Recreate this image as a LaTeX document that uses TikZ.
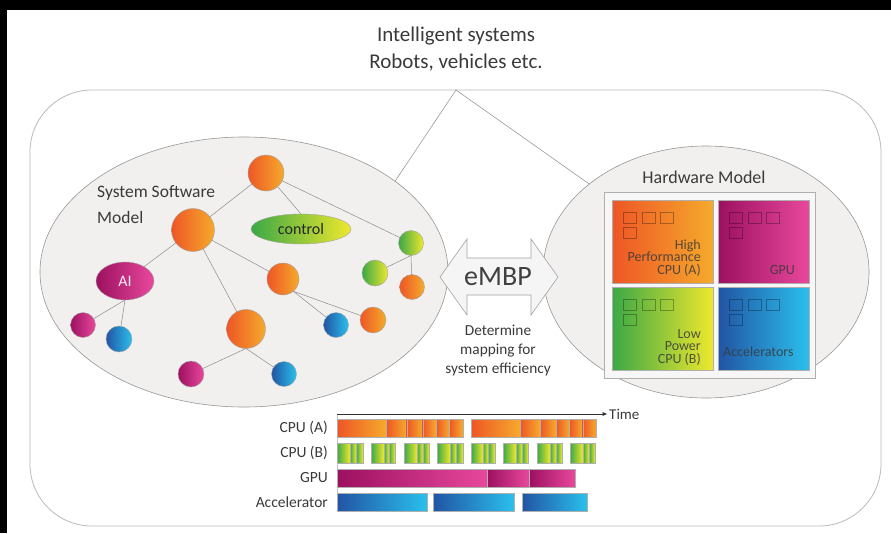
\documentclass[tikz,border=0pt]{standalone}
\usepackage{fontspec}
\setmainfont{Carlito}
\usetikzlibrary{shapes.geometric,arrows.meta}
\definecolor{orL}{HTML}{EE5626}
\definecolor{orR}{HTML}{F5AA2C}
\definecolor{mgL}{HTML}{9C1060}
\definecolor{mgR}{HTML}{E8489C}
\definecolor{blL}{HTML}{2254A4}
\definecolor{blR}{HTML}{2AC0EC}
\definecolor{grL}{HTML}{3BA846}
\definecolor{grR}{HTML}{EEE82E}
\definecolor{ln}{HTML}{8C8C8C}
\definecolor{bgc}{HTML}{F2F0EF}
\definecolor{txt}{HTML}{3A3A3A}
\tikzset{
  bub/.style={circle, draw=ln!80, line width=0.4pt, inner sep=0pt, outer sep=0pt, minimum size=#1},
  gor/.style={left color=orL, right color=orR},
  gmg/.style={left color=mgL, right color=mgR},
  gbl/.style={left color=blL, right color=blR},
  ggr/.style={left color=grL, right color=grR},
  lnk/.style={draw=ln, line width=0.5pt},
  seg/.style={draw=ln!70, line width=0.4pt},
  sq/.style={draw=black, draw opacity=0.3, line width=0.6pt},
  lbl/.style={inner sep=0pt, text=txt},
  fz/.style={font=\fontsize{#1}{#1}\selectfont},
}
\begin{document}
\begin{tikzpicture}[x=1pt,y=-1pt]
\useasboundingbox (0,0) rectangle (891,533);
\fill[white] (0,0) rectangle (891,533);
\fill[black] (0,0) rectangle (891,10);
\fill[black] (0,0) rectangle (7,533);

% title
\node[lbl, align=center, font=\fontsize{21}{27}\selectfont] (title) at (456,49.5) {Intelligent systems\\Robots, vehicles etc.};

% outer frame
\draw[draw=ln!60, line width=0.8pt, rounded corners=62pt] (30,90) rectangle (881,526);

% ellipses
\node[ellipse, draw=ln!90, fill=bgc, line width=0.6pt, inner sep=0pt, outer sep=0pt, minimum width=408pt, minimum height=270pt] (sw) at (244,272) {};
\node[ellipse, draw=ln!90, fill=bgc, line width=0.6pt, inner sep=0pt, outer sep=0pt, minimum width=326pt, minimum height=252pt] (hw) at (706,272) {};
\coordinate (apex) at (456,90);
\draw[lnk] (apex) -- (sw.31.7);
\draw[lnk] (apex) -- (hw.143.4);

% eMBP arrow
\filldraw[fill=white!96!black, draw=ln!80, line width=0.6pt]
  (440,277) -- (467,239) -- (467,258) -- (531,258) -- (531,239) -- (558,277)
  -- (531,315) -- (531,295) -- (467,295) -- (467,315) -- cycle;
\node[lbl, text=black!75, fz=28] (embp) at (498,277) {eMBP};
\node[lbl, align=center, font=\fontsize{15.3}{19}\selectfont] (det) at (498,350) {Determine\\mapping for\\system efficiency};

% software model
\node[lbl, anchor=west, align=left, font=\fontsize{17.5}{26}\selectfont] (swt) at (97,205) {System Software\\Model};
\node[bub=36pt,gor] (top) at (266,173) {};
\node[bub=43pt,gor] (bl) at (193,230) {};
\node[ellipse, draw=ln!80, line width=0.4pt, ggr, inner sep=0pt, outer sep=0pt, minimum width=100pt, minimum height=30pt, fz=16, text=black!85] (ctl) at (301,229) {control};
\node[bub=25pt,ggr] (g1) at (411,243) {};
\node[bub=26pt,ggr] (g2) at (375,273) {};
\node[bub=25pt,gor] (o3) at (412,287) {};
\node[ellipse, draw=ln!80, line width=0.4pt, gmg, inner sep=0pt, outer sep=0pt, minimum width=58pt, minimum height=38pt, fz=16, text=white!90!mgR] (ai) at (125,281) {AI};
\node[bub=32pt,gor] (om) at (283,279) {};
\node[bub=25pt,gmg] (m1) at (83,325) {};
\node[bub=26pt,gbl] (b1) at (119,339) {};
\node[bub=39pt,gor] (ob) at (246,329) {};
\node[bub=25pt,gbl] (b2) at (336,325) {};
\node[bub=26pt,gor] (o4) at (373,320) {};
\node[bub=26pt,gmg] (m2) at (191,374) {};
\node[bub=25pt,gbl] (b3) at (284,374) {};
\draw[lnk] (top) -- (bl);
\draw[lnk] (top) -- (ctl.north);
\draw[lnk] (top) -- (g1);
\draw[lnk] (bl) -- (ai);
\draw[lnk] (bl) -- (om);
\draw[lnk] (bl) -- (ob);
\draw[lnk] (ai.south) -- (m1);
\draw[lnk] (ai.south) -- (b1);
\draw[lnk] (om.-50) -- (b2);
\draw[lnk] (om.-50) -- (o4);
\draw[lnk] (g1.south) -- (g2);
\draw[lnk] (g1.south) -- (o3);
\draw[lnk] (ob.south) -- (m2);
\draw[lnk] (ob.south) -- (b3);

% hardware model
\node[lbl, fz=18] (hwt) at (704,177) {Hardware Model};
\filldraw[fill=white!97!black, draw=ln!70, line width=0.6pt] (604,192) rectangle (815,378);
\shade[seg, left color=orL, right color=orR] (612,200) rectangle (713,283);
\shade[seg, left color=mgL, right color=mgR] (718,200) rectangle (809,283);
\shade[seg, left color=grL, right color=grR] (612,287) rectangle (713,370);
\shade[seg, left color=blL, right color=blR] (718,287) rectangle (809,370);
\foreach \bx/\by in {612/200,718/200,612/287,718/287}{
  \draw[sq] (\bx+11,\by+12) rectangle ++(13,11);
  \draw[sq] (\bx+30,\by+12) rectangle ++(13,11);
  \draw[sq] (\bx+48,\by+12) rectangle ++(13,11);
  \draw[sq] (\bx+11,\by+27) rectangle ++(13,11);
}
\node[lbl, text opacity=0.85, anchor=east, align=right, font=\fontsize{14}{12.3}\selectfont] (cpua) at (701,258) {High\\Performance\\CPU (A)};
\node[lbl, text opacity=0.85, anchor=east, fz=14] (gpu) at (795,270) {GPU};
\node[lbl, text opacity=0.85, anchor=east, align=right, font=\fontsize{14}{12.5}\selectfont] (cpub) at (701,347) {Low\\Power\\CPU (B)};
\node[lbl, text opacity=0.85, anchor=west, fz=14] (acc) at (723,352) {Accelerators};

% timeline
\node[lbl, anchor=west, fz=15] (time) at (609,414) {Time};
\coordinate (t0) at (337,414);
\coordinate (t1) at (337,511);
\draw[draw=ln!50, line width=0.6pt] (t0) -- (t1);
\draw[draw=black!80, line width=0.9pt, -{Latex[length=5pt,width=4.5pt]}, shorten >=1.5pt] (t0) -- (time.west);
\node[lbl, anchor=east, font=\fontsize{15.5}{16}\selectfont] (la) at (328,428) {CPU (A)};
\node[lbl, anchor=east, font=\fontsize{15.5}{16}\selectfont] (lb) at (328,453) {CPU (B)};
\node[lbl, anchor=east, font=\fontsize{15.5}{16}\selectfont] (lg) at (328,478) {GPU};
\node[lbl, anchor=east, font=\fontsize{15.5}{16}\selectfont] (lc) at (328,502) {Accelerator};
\foreach \a/\b in {337/386,386/406.7,406.7/422.7,422.7/436,436/449.3,449.3/462.7,471/520,520/540,540/556,556/569.3,569.3/582.7,582.7/596}
  \shade[seg, left color=orL, right color=orR] (\a,419) rectangle (\b,437);
\foreach \a/\p/\q/\r in {337/350/356/363,371/384/389/395,404/417/423/429,437/450/456/463,471/483/488/495,503/516/522/528,537/550/556/562,570/583/589/595}{
  \shade[seg, left color=grL, right color=grR] (\a,443) rectangle (\p,463);
  \shade[seg, left color=grL, right color=grR] (\p,443) rectangle (\q,463);
  \shade[seg, left color=grL, right color=grR] (\q,443) rectangle (\r,463);
}
\foreach \a/\b in {337/487,487/529,529/575}
  \shade[seg, left color=mgL, right color=mgR] (\a,469) rectangle (\b,487);
\foreach \a/\b in {337/427,433/514,522/587}
  \shade[seg, left color=blL, right color=blR] (\a,493) rectangle (\b,511);
\end{tikzpicture}
\end{document}
